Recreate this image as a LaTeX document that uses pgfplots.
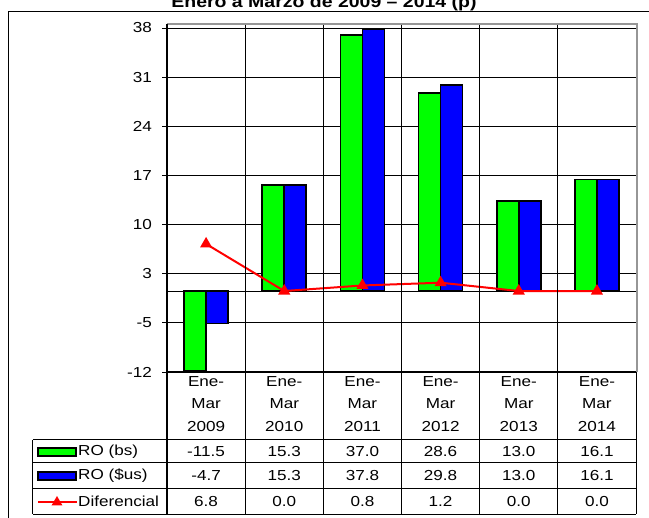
\documentclass[border=0pt]{standalone}
\usepackage{fontspec}
\setmainfont{Liberation Sans}[FakeStretch=1.18]
\usepackage{pgfplots}
\pgfplotsset{compat=1.18}
\definecolor{xgreen}{RGB}{0,255,0}
\definecolor{xblue}{RGB}{0,0,255}
\definecolor{xred}{RGB}{255,0,0}
\definecolor{xgray}{RGB}{150,150,150}
\begin{document}
\fontsize{14.5bp}{16bp}\selectfont
\begin{tikzpicture}[x=1bp,y=1bp]
\begin{axis}[
  at={(0,0)}, anchor=south west,
  width=469bp, height=344bp, scale only axis,
  xmin=0, xmax=6, ymin=-11.7, ymax=38,
  axis line style={draw=none},
  xtick=\empty,
  ytick={-11.7,-4.6,2.5,9.6,16.7,23.8,30.9,38},
  yticklabels={-12,-5,3,10,17,24,31,38},
  ytick pos=left,
  ymajorgrids, grid style={black, line width=0.9bp},
  major tick length=5bp, tick align=outside,
  ytick style={black, line width=0.9bp},
  yticklabel style={font=\fontsize{14.5bp}{16bp}\selectfont, anchor=east, inner sep=0pt, xshift=-10bp},
  ybar=0pt, bar width=22bp,
  clip=false,
]
\addplot[ybar, fill=xgreen, draw=black, line width=1.8bp] coordinates {(0.5,-11.5) (1.5,15.3) (2.5,37.0) (3.5,28.6) (4.5,13.0) (5.5,16.1)};
\addplot[ybar, fill=xblue, draw=black, line width=1.8bp] coordinates {(0.5,-4.7) (1.5,15.3) (2.5,37.8) (3.5,29.8) (4.5,13.0) (5.5,16.1)};
\draw[black, line width=1bp] (axis cs:0,0) -- (axis cs:6,0);
\addplot[sharp plot, xred, line width=2bp, mark=triangle*, mark size=5bp, mark options={solid, fill=xred}] coordinates {(0.5,6.8) (1.5,0.0) (2.5,0.8) (3.5,1.2) (4.5,0.0) (5.5,0.0)};
\end{axis}
% plot-area frame (grey top and right edges)
\draw[xgray, line width=2.5bp] (0,348) -- (470,348) -- (470,0);
% axis and category separators
\draw[black, line width=1.2bp] (0,348) -- (0,-142);
\foreach \k in {1,...,5} {\draw[black, line width=0.9bp] (78.1667*\k,347) -- (78.1667*\k,-142);}
\draw[black, line width=1bp] (0,0) -- (469,0);
\draw[black, line width=1bp] (469,0) -- (469,-142);
% table lines
\foreach \yy in {-68,-91,-117,-142} {\draw[black, line width=1bp] (-134,\yy) -- (469,\yy);}
\draw[black, line width=1bp] (-134,-68) -- (-134,-142);
% outer frame
\draw[black, line width=1bp] (-158,-160) -- (-158,360) -- (500,360);
% header labels
\foreach \yr [count=\i from 0] in {2009,2010,2011,2012,2013,2014} {
  \node at ({78.1667*(\i+0.5)},-10) {Ene-};
  \node at ({78.1667*(\i+0.5)},-32) {Mar};
  \node at ({78.1667*(\i+0.5)},-55) {\yr};
}
\foreach \v [count=\i from 0] in {-11.5,15.3,37.0,28.6,13.0,16.1} {\node at ({78.1667*(\i+0.5)},-79.5) {\v};}
\foreach \v [count=\i from 0] in {-4.7,15.3,37.8,29.8,13.0,16.1} {\node at ({78.1667*(\i+0.5)},-104) {\v};}
\foreach \v [count=\i from 0] in {6.8,0.0,0.8,1.2,0.0,0.0} {\node at ({78.1667*(\i+0.5)},-129.5) {\v};}
% legend keys
\filldraw[fill=xgreen, draw=black, line width=1.6bp] (-129,-76) rectangle (-91,-84);
\filldraw[fill=xblue, draw=black, line width=1.6bp] (-129,-100) rectangle (-91,-108);
\draw[xred, line width=2bp] (-129,-130) -- (-90,-130);
\fill[xred] (-110,-130) ++(0,6) -- ++(-5.5,-9.5) -- ++(11,0) -- cycle;
\node[anchor=west, inner sep=0pt] at (-89,-80) {RO (bs)};
\node[anchor=west, inner sep=0pt] at (-89,-104) {RO (\$us)};
\node[anchor=west, inner sep=0pt] at (-89,-129.5) {Diferencial};
% title (cut at the top, as in the reference)
\node[anchor=base, inner sep=0pt, font=\bfseries\fontsize{16.5bp}{18bp}\selectfont] at (157,364) {Enero a Marzo de 2009 – 2014 (p)};
\pgfresetboundingbox
\path (-167,-146) rectangle (482,372);
\end{tikzpicture}
\end{document}
